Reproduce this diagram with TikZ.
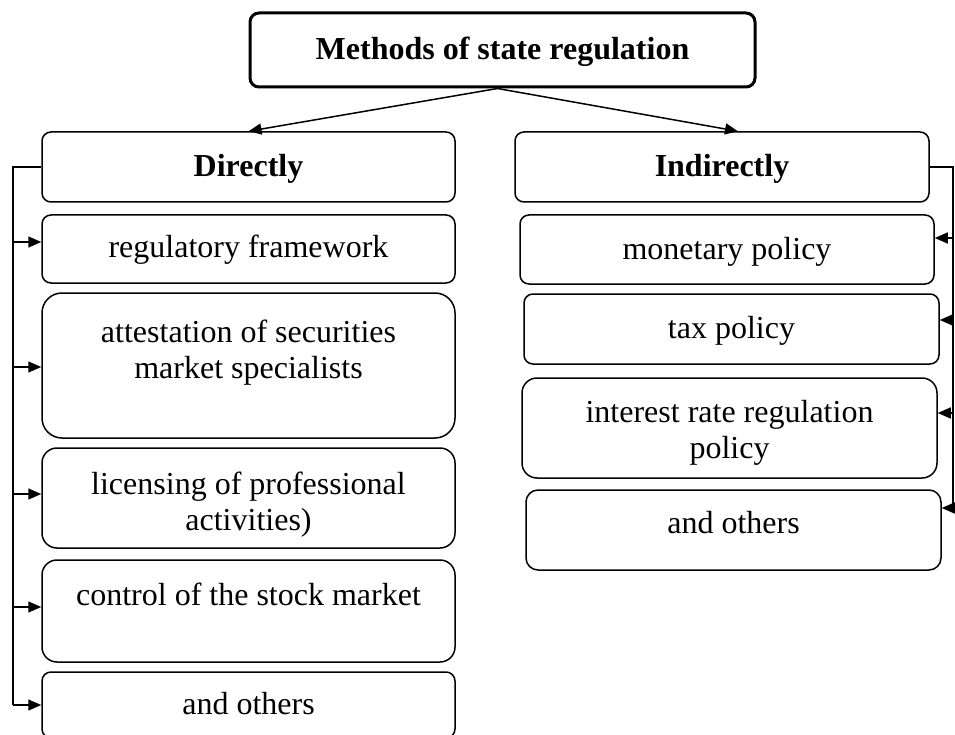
\documentclass[tikz,border=0pt]{standalone}
\usepackage{fontspec}
\setmainfont{Liberation Serif}
\usetikzlibrary{arrows.meta}
\begin{document}
\begin{tikzpicture}[x=1pt,y=-1pt]
\tikzset{boite/.style={draw, rounded corners=9pt, line width=1.5pt, align=center, inner sep=2pt, font=\fontsize{32}{36}\selectfont},
fleche/.style={line width=1.5pt, -{Triangle[length=13pt,width=11pt]}}}
\clip (0,0) rectangle (955,735);
\node[boite, line width=3pt, font=\bfseries\fontsize{32}{36}\selectfont, text height=27pt, text depth=7pt, minimum width=505pt, minimum height=74pt] (M) at (502.5,50) {Methods of state regulation};
\node[boite, font=\bfseries\fontsize{32}{36}\selectfont, text height=27pt, text depth=7pt, minimum width=413pt, minimum height=70pt] (D) at (248.5,167) {Directly};
\node[boite, font=\bfseries\fontsize{32}{36}\selectfont, text height=27pt, text depth=7pt, minimum width=414pt, minimum height=70pt] (I) at (722,167) {Indirectly};
\node[boite, text height=25pt, text depth=7pt, minimum width=413pt, minimum height=68pt] (D1) at (248.5,249) {regulatory framework};
\node[boite, rounded corners=20pt, text depth=33pt, minimum width=413pt, minimum height=145pt] (D2) at (248.5,365.5) {attestation of securities\\market specialists};
\node[boite, rounded corners=15pt, text height=71pt, text depth=7pt, minimum width=413pt, minimum height=100pt] (D3) at (248.5,498) {licensing of professional\\activities)};
\node[boite, rounded corners=15pt, text height=27pt, text depth=39pt, minimum width=413pt, minimum height=102pt] (D4) at (248.5,611) {control of the stock market};
\node[boite, text height=25pt, text depth=7pt, minimum width=413pt, minimum height=66pt] (D5) at (248.5,705) {and others};
\node[boite, text height=28pt, text depth=7pt, minimum width=414pt, minimum height=69pt] (I1) at (727,249.5) {monetary policy};
\node[boite, text height=25pt, text depth=7pt, minimum width=415pt, minimum height=70pt] (I2) at (731.5,329) {tax policy};
\node[boite, rounded corners=15pt, text height=67pt, text depth=7pt, minimum width=415pt, minimum height=100pt] (I3) at (729.5,428) {interest rate regulation\\policy};
\node[boite, rounded corners=12pt, text height=22pt, text depth=16pt, minimum width=415pt, minimum height=80pt] (I4) at (733.5,530) {and others};
\draw[fleche] ([xshift=-5pt]M.south) -- (D.north);
\draw[fleche] ([xshift=-5pt]M.south) -- ([xshift=16pt]I.north);
\coordinate (G0) at (13,167);
\coordinate (G1) at (13,242);
\coordinate (G2) at (13,367);
\coordinate (G3) at (13,494);
\coordinate (G4) at (13,607);
\coordinate (G5) at (13,705);
\draw[line width=1.5pt] (D.west) -- (G0) -- (G5);
\foreach \g/\b in {G1/D1, G2/D2, G3/D3, G4/D4, G5/D5}
  \draw[fleche] (\g) -- (\g -| \b.west);
\coordinate (H0) at (953,167);
\coordinate (H1) at (953,238);
\coordinate (H2) at (953,320);
\coordinate (H3) at (953,413);
\coordinate (H4) at (953,508);
\draw[line width=1.5pt] (I.east) -- (H0) -- (H4);
\foreach \h/\b in {H1/I1, H2/I2, H3/I3, H4/I4}
  \draw[fleche] (\h) -- (\h -| \b.east);
\end{tikzpicture}
\end{document}
